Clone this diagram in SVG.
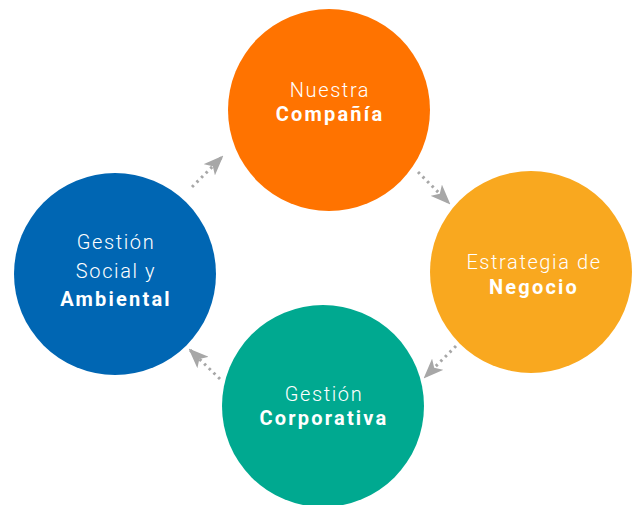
<svg xmlns="http://www.w3.org/2000/svg" width="636" height="505" viewBox="0 0 636 505">
<defs>
<style>
.t{font-family:Roboto,"Open Sans","Liberation Sans",sans-serif;font-size:20px;fill:#fff;text-anchor:middle;letter-spacing:1.6px}
.l{font-weight:300}
.b{font-weight:700;letter-spacing:2.2px}
.c{stroke:#A7A7A7;stroke-width:3;stroke-dasharray:2.5 4;fill:none}
</style>
<marker id="ah" viewBox="0 0 20 16" refX="18" refY="8" markerWidth="20" markerHeight="16" markerUnits="userSpaceOnUse" orient="auto">
<path d="M0,0 L20,8 L0,16 L5,8 Z" fill="#A7A7A7"/>
</marker>
</defs>
<rect width="636" height="505" fill="#fff"/>
<g id="connectors">
<line class="c" x1="192" y1="187" x2="222" y2="157" marker-end="url(#ah)"/>
<line class="c" x1="418" y1="172" x2="449" y2="203" marker-end="url(#ah)"/>
<line class="c" x1="456" y1="346" x2="425" y2="377" marker-end="url(#ah)"/>
<line class="c" x1="220" y1="379" x2="190" y2="350" marker-end="url(#ah)"/>
</g>
<g id="nuestra-compania">
<circle cx="329" cy="110" r="101" fill="#FF7300"/>
<text class="t l" x="330" y="97">Nuestra</text>
<text class="t b" x="330" y="121">Compañía</text>
</g>
<g id="estrategia-negocio">
<circle cx="531" cy="272" r="101" fill="#F9A81F"/>
<text class="t l" x="534" y="269">Estrategia de</text>
<text class="t b" x="534" y="294">Negocio</text>
</g>
<g id="gestion-corporativa">
<circle cx="323" cy="406" r="101" fill="#00A990"/>
<text class="t l" x="324" y="401">Gestión</text>
<text class="t b" x="324" y="425">Corporativa</text>
</g>
<g id="gestion-social">
<circle cx="115" cy="274" r="101" fill="#0066B3"/>
<text class="t l" x="116" y="249">Gestión</text>
<text class="t l" x="116" y="278">Social y</text>
<text class="t b" x="116" y="306">Ambiental</text>
</g>
</svg>
